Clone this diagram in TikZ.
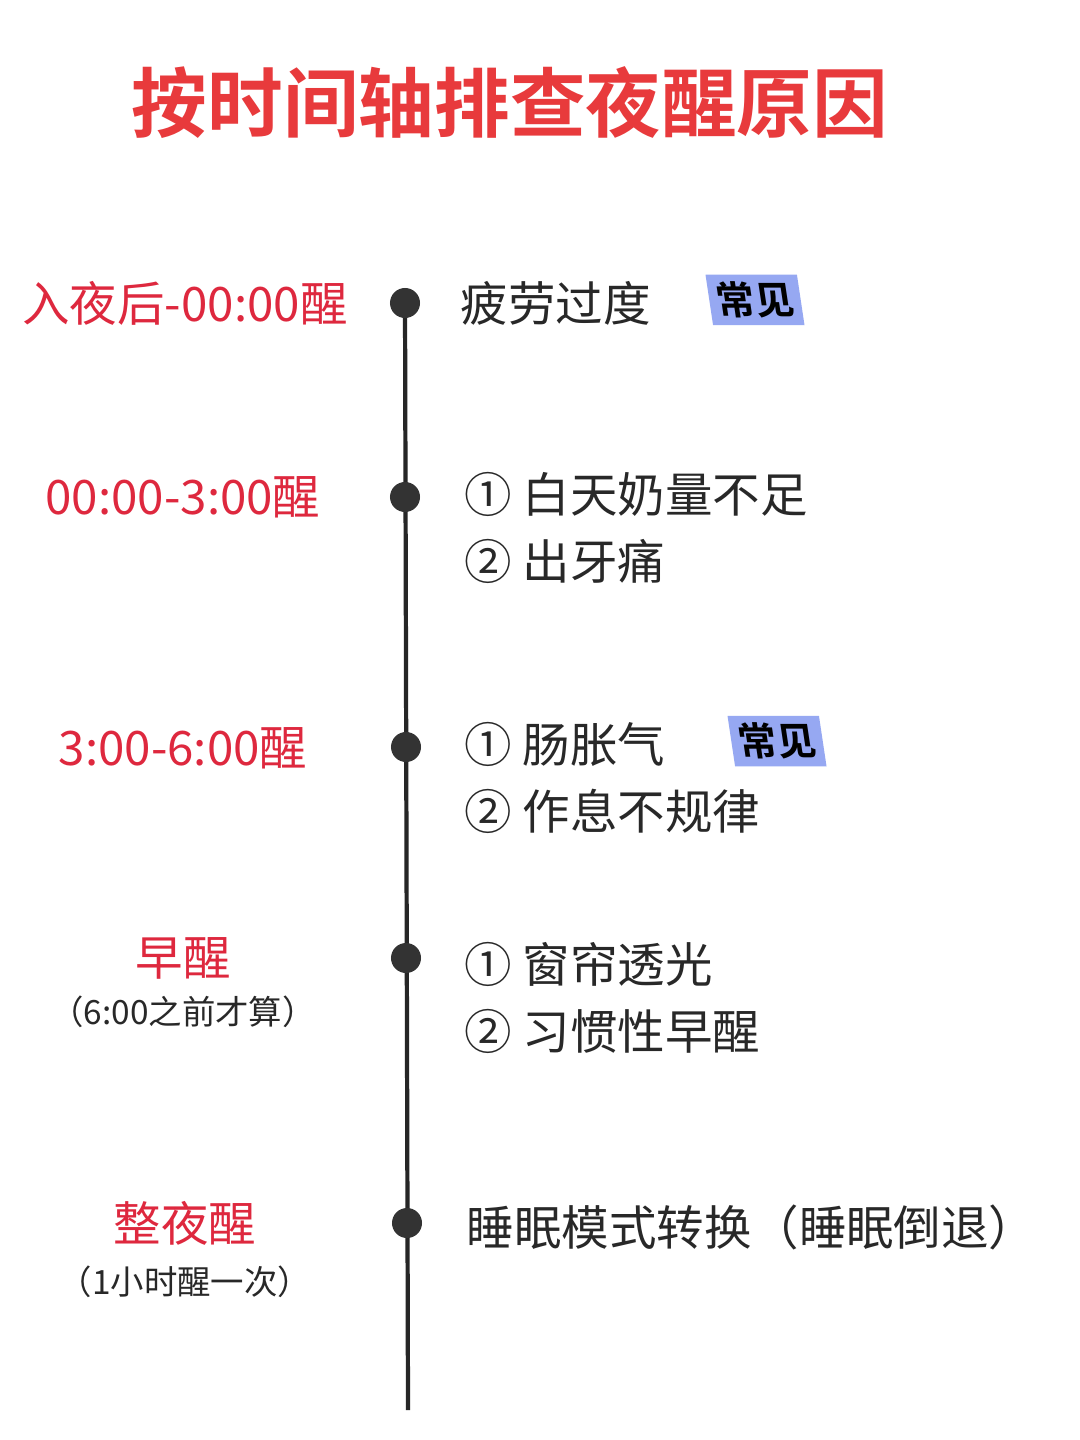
\documentclass[tikz,border=0pt]{standalone}
\usepackage{fontspec}
\setmainfont{Noto Sans CJK SC}
\newfontfamily\cjkbold{Noto Sans CJK SC Bold}
\usetikzlibrary{positioning}
\definecolor{titlered}{RGB}{232,58,60}
\definecolor{labelred}{RGB}{222,40,62}
\definecolor{tagblue}{RGB}{150,168,242}
\definecolor{textgray}{RGB}{40,40,40}
\begin{document}
\begin{tikzpicture}
  [
    x=0.01cm, y=-0.01cm,
    Dot/.style={circle, fill=black!80, inner sep=0pt, minimum size=0.3cm},
    When/.style={text=labelred, font=\fontsize{13.5}{15}\selectfont, align=center},
    Note/.style={text=textgray, font=\fontsize{9.5}{12}\selectfont},
    Cause/.style={text=textgray, font=\fontsize{13.5}{19}\selectfont, align=left, anchor=west, inner sep=0pt},
    Tag/.style={fill=tagblue, xslant=-0.15, inner sep=2pt, font=\cjkbold\fontsize{11}{13}\selectfont}
  ]
  \useasboundingbox[fill=white] (0,0) rectangle (1080,1440);
  % title
  \node[text=titlered, font=\cjkbold\fontsize{21.5}{25}\selectfont] (title) at (510,103) {按时间轴排查夜醒原因};

  % timeline
  \coordinate (top) at (405,300);
  \coordinate (bottom) at (408,1410);
  \draw[line width=1.2pt, black!85] (top) -- (bottom);
  \node[Dot] (d1) at (405,303) {};
  \node[Dot] (d2) at (405,497) {};
  \node[Dot] (d3) at (406,747) {};
  \node[Dot] (d4) at (406,958) {};
  \node[Dot] (d5) at (407,1223) {};

  % times
  \node[When] (t1) at (185,303) {入夜后-00:00醒};
  \node[When] (t2) at (183,497) {00:00-3:00醒};
  \node[When] (t3) at (183,748) {3:00-6:00醒};
  \node[When] (t4) at (183,958) {早醒};
  \node[Note, below=8 of t4] (n4) {（6:00之前才算）};
  \node[When] (t5) at (185,1223) {整夜醒};
  \node[Note, below=4 of t5] (n5) {（1小时醒一次）};

  % causes
  \node[Cause] (c1) at (460,303) {疲劳过度};
  \node[Tag] (g1) at (755,300) {常见};
  \node[Cause] (c2) at (464,528) {① 白天奶量不足\\② 出牙痛};
  \node[Cause] (c3) at (464,778) {① 肠胀气\\② 作息不规律};
  \node[Tag] (g3) at (777,741) {常见};
  \node[Cause] (c4) at (464,998) {① 窗帘透光\\② 习惯性早醒};
  \node[Cause] (c5) at (466,1227) {睡眠模式转换（睡眠倒退）};
\end{tikzpicture}
\end{document}
